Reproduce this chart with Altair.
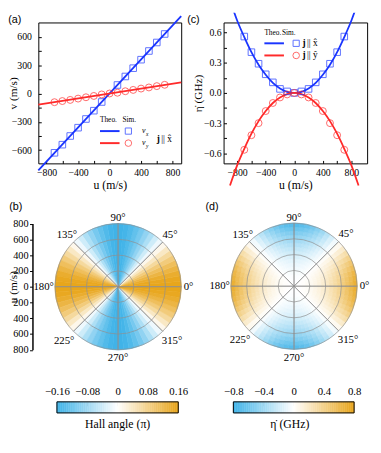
import altair as alt
import pandas as pd

# ---------------- layout helpers (page px -> chart px) ----------------
W, H = 373, 437
OX, OY = 8, 8


def X(v):
    return v - OX


def Y(v):
    return v - OY


SERIF = "Liberation Serif, 'Times New Roman', Times, 'DejaVu Serif', serif"
SANS = "Liberation Sans, Arial, 'DejaVu Sans', sans-serif"
BLUE = "#1a35ff"
RED = "#ff2a2a"
HEAT_BLUE = "#3fb3e8"
HEAT_ORANGE = "#e8a51a"
GRID = "#8f8f8f"

# ---------------- data ----------------
# (a) velocity vs u
u_sq_a = [-700, -600, -500, -400, -300, -200, -100, 100, 200, 300, 400, 500, 600, 700]
vx_sim = [-628, -542, -450, -362, -270, -182, -90, 90, 180, 268, 358, 450, 540, 630]
u_sim = [-700, -600, -500, -400, -300, -200, -100, 0, 100, 200, 300, 400, 500, 600, 700]
vy_sim = [-92, -80, -68, -54, -40, -26, -10, 0, 8, 24, 38, 52, 64, 78, 92]
u_line = [-905, 910]
vx_line = [-815, 819]
vy_line = [-118, 118]

# (c) eta-dot vs u
eta_sx = [0.56, 0.405, 0.29, 0.185, 0.105, 0.04, 0.015, 0.0, 0.015, 0.04, 0.105, 0.185, 0.29, 0.405, 0.56]
eta_sy = [-0.565, -0.42, -0.30, -0.18, -0.10, -0.045, -0.015, 0.0, -0.015, -0.045, -0.10, -0.18, -0.30, -0.42, -0.565]
u_th = [-900, -800, -700, -600, -500, -400, -300, -200, -100, 0, 100, 200, 300, 400, 500, 600, 700, 800, 900]
eta_tx = [0.92, 0.72, 0.555, 0.405, 0.28, 0.18, 0.10, 0.045, 0.011, 0.0, 0.011, 0.045, 0.10, 0.18, 0.28, 0.405, 0.555, 0.72, 0.92]
eta_ty = [-0.92, -0.72, -0.555, -0.405, -0.28, -0.18, -0.10, -0.045, -0.011, 0.0, -0.011, -0.045, -0.10, -0.18, -0.28, -0.405, -0.555, -0.72, -0.92]

# (b) Hall angle (units of pi) per 5-degree sector, first quadrant
hall_q = [0.159, 0.155, 0.145, 0.131, 0.113, 0.092, 0.068, 0.041, 0.014,
          -0.014, -0.041, -0.068, -0.092, -0.113, -0.131, -0.145, -0.155, -0.159]
# (d) eta-dot at the rim (GHz) per 5-degree sector, first quadrant
eta_rim_q = [0.747, 0.724, 0.680, 0.614, 0.530, 0.430, 0.317, 0.194, 0.065,
             -0.065, -0.194, -0.317, -0.430, -0.530, -0.614, -0.680, -0.724, -0.747]
# (d) radial fraction of rim value per 50 m/s ring
radial_frac = [0.001, 0.009, 0.024, 0.048, 0.079, 0.118, 0.165, 0.220,
               0.282, 0.353, 0.431, 0.517, 0.610, 0.712, 0.821, 0.938]

angle_ticks = [0, 45, 90, 135, 180, 225, 270, 315]
angle_labels = ["0°", "45°", "90°", "135°", "180°", "225°", "270°", "315°"]
angle_label_r = [893, 930, 868, 918, 943, 967, 905, 967]
ring_r = [200, 400, 600, 800]

ONE = pd.DataFrame({"k": [0]})


def full_circle(q):
    half = q + q[::-1]
    return half + half


hall_full = full_circle(hall_q)
eta_full = full_circle(eta_rim_q)

heat_b = pd.DataFrame({
    "a0": [5 * k for k in range(72)],
    "a1": [5 * k + 5 for k in range(72)],
    "ro": [800] * 72,
    "ri": [0] * 72,
    "v": hall_full,
})
rows = []
for k, ev in enumerate(eta_full):
    for j, f in enumerate(radial_frac):
        rows.append({"a0": 5 * k, "a1": 5 * k + 5, "ri": 50 * j, "ro": 50 * j + 50, "v": ev * f})
heat_d = pd.DataFrame(rows)

# ---------------- common pieces ----------------
def txt(s, x, y, size=10, font=SERIF, align="center", baseline="middle",
        style="normal", weight="normal", color="black"):
    return alt.Chart(ONE).mark_text(
        text=s, font=font, fontSize=size, align=align, baseline=baseline,
        fontStyle=style, fontWeight=weight, color=color
    ).encode(x=alt.value(X(x)), y=alt.value(Y(y)))


def hrule(x0, x1, y, color):
    return alt.Chart(ONE).mark_rule(color=color, strokeWidth=2).encode(
        x=alt.value(X(x0)), x2=alt.value(X(x1)), y=alt.value(Y(y)))


def marker(x, y, shape, color, size):
    return alt.Chart(ONE).mark_point(shape=shape, filled=False, color=color,
                                     size=size, strokeWidth=1).encode(
        x=alt.value(X(x)), y=alt.value(Y(y)))


def frame_layers(xs, ys, x0, x1, y0, y1, xt, yt):
    base = alt.Chart(ONE).mark_point(opacity=0)
    f1 = base.encode(
        x=alt.XDatum(0, type="quantitative", scale=xs,
                     axis=alt.Axis(orient="top", offset=-y1, values=xt, labels=False,
                                   ticks=True, tickSize=3, domain=True, grid=False, title=None)),
        y=alt.YDatum(0, type="quantitative", scale=ys,
                     axis=alt.Axis(orient="right", offset=x0 - W, values=yt, labels=False,
                                   ticks=True, tickSize=3, domain=True, grid=False, title=None)))
    f2 = base.encode(
        x=alt.XDatum(0, type="quantitative", scale=xs,
                     axis=alt.Axis(orient="bottom", offset=y0 - H, labels=False,
                                   ticks=False, domain=True, grid=False, title=None)),
        y=alt.YDatum(0, type="quantitative", scale=ys,
                     axis=alt.Axis(orient="left", offset=-x1, labels=False,
                                   ticks=False, domain=True, grid=False, title=None)))
    return [f1, f2]


# ---------------- panel (a) ----------------
xA = alt.Scale(domain=[-905, 910], range=[X(39), X(185)], nice=False, zero=False)
yA = alt.Scale(domain=[-740, 752], range=[Y(162), Y(18)], nice=False, zero=False)
xaxA = alt.Axis(orient="bottom", offset=Y(162) - H, values=[-800, -400, 0, 400, 800], format="d",
                ticks=False, tickSize=0, domain=False, labelPadding=4,
                title="u (m/s)", titlePadding=3)
yaxA = alt.Axis(orient="left", offset=-X(39), values=[-600, -300, 0, 300, 600], format="d",
                ticks=False, tickSize=0, domain=False, labelPadding=7,
                title="v (m/s)", titleX=X(14) - X(39), titleY=Y(90), titleBaseline="middle",
                titleFontSize=11.5)

df_lineA = pd.DataFrame({"u": u_line, "vx": vx_line, "vy": vy_line})
df_sqA = pd.DataFrame({"u": u_sq_a, "vx": vx_sim})
df_ciA = pd.DataFrame({"u": u_sim, "vy": vy_sim})

dataA = alt.layer(
    alt.Chart(df_lineA).mark_line(color=BLUE, strokeWidth=1.8, clip=True).encode(
        x=alt.X("u:Q", scale=xA, axis=xaxA), y=alt.Y("vx:Q", scale=yA, axis=yaxA)),
    alt.Chart(df_lineA).mark_line(color=RED, strokeWidth=1.8, clip=True).encode(
        x=alt.X("u:Q", scale=xA, axis=xaxA), y=alt.Y("vy:Q", scale=yA, axis=yaxA)),
    alt.Chart(df_sqA).mark_point(shape="square", filled=False, color=BLUE, size=45, strokeWidth=1).encode(
        x=alt.X("u:Q", scale=xA, axis=xaxA), y=alt.Y("vx:Q", scale=yA, axis=yaxA)),
    alt.Chart(df_ciA).mark_point(shape="circle", filled=False, color=RED, size=50, strokeWidth=1).encode(
        x=alt.X("u:Q", scale=xA, axis=xaxA), y=alt.Y("vy:Q", scale=yA, axis=yaxA)),
)
panelA = alt.layer(
    dataA,
    *frame_layers(xA, yA, X(39), X(185), Y(18), Y(162),
                  list(range(-800, 801, 200)), list(range(-600, 601, 150)))
).resolve_scale(x="independent", y="independent")

# ---------------- panel (c) ----------------
xC = alt.Scale(domain=[-990, 1020], range=[X(228.3), X(375)], nice=False, zero=False)
yC = alt.Scale(domain=[-0.70, 0.70], range=[Y(162), Y(18)], nice=False, zero=False)
xaxC = alt.Axis(orient="bottom", offset=Y(162) - H, values=[-800, -400, 0, 400, 800], format="d",
                ticks=False, tickSize=0, domain=False, labelPadding=4,
                title="u (m/s)", titlePadding=3)
yaxC = alt.Axis(orient="left", offset=-X(228.3), values=[-0.6, -0.3, 0, 0.3, 0.6], format=".1f",
                ticks=False, tickSize=0, domain=False, labelPadding=2.5,
                title="η̇ (GHz)", titleX=X(202.5) - X(228.3), titleY=Y(90), titleBaseline="middle",
                titleFontSize=11.5)

df_thC = pd.DataFrame({"u": u_th, "ex": eta_tx, "ey": eta_ty})
df_simC = pd.DataFrame({"u": u_sim, "ex": eta_sx, "ey": eta_sy})

dataC = alt.layer(
    alt.Chart(df_thC).mark_line(color=BLUE, strokeWidth=1.8, clip=True, interpolate="monotone").encode(
        x=alt.X("u:Q", scale=xC, axis=xaxC), y=alt.Y("ex:Q", scale=yC, axis=yaxC)),
    alt.Chart(df_thC).mark_line(color=RED, strokeWidth=1.8, clip=True, interpolate="monotone").encode(
        x=alt.X("u:Q", scale=xC, axis=xaxC), y=alt.Y("ey:Q", scale=yC, axis=yaxC)),
    alt.Chart(df_simC).mark_point(shape="square", filled=False, color=BLUE, size=45, strokeWidth=1).encode(
        x=alt.X("u:Q", scale=xC, axis=xaxC), y=alt.Y("ex:Q", scale=yC, axis=yaxC)),
    alt.Chart(df_simC).mark_point(shape="circle", filled=False, color=RED, size=50, strokeWidth=1).encode(
        x=alt.X("u:Q", scale=xC, axis=xaxC), y=alt.Y("ey:Q", scale=yC, axis=yaxC)),
)
panelC = alt.layer(
    dataC,
    *frame_layers(xC, yC, X(228.3), X(375), Y(18), Y(162),
                  list(range(-800, 801, 200)), [-0.6, -0.45, -0.3, -0.15, 0, 0.15, 0.3, 0.45, 0.6])
).resolve_scale(x="independent", y="independent")

# ---------------- polar panels ----------------
THETA = alt.Scale(type="linear", domain=[0, 360], range=[1.5707963267948966, -4.71238898038469],
                  nice=False, zero=False)
RAD = alt.Scale(type="linear", domain=[0, 1000], range=[0, 80.625], nice=False, zero=False)

df_rings = pd.DataFrame({"r": ring_r, "a0": [0] * 4, "a1": [360] * 4})
df_spokes = pd.DataFrame({"a": angle_ticks, "r": [800] * 8})
df_alab = pd.DataFrame({"a": angle_ticks, "lab": angle_labels, "rl": angle_label_r})


def polar(cx, cy, heat_df, cscale, extra=None):
    cxv, cyv = alt.value(X(cx)), alt.value(Y(cy))
    heat = alt.Chart(heat_df).mark_arc(strokeWidth=0.6).encode(
        theta=alt.Theta("a0:Q", scale=THETA, stack=False), theta2="a1:Q",
        radius=alt.Radius("ro:Q", scale=RAD), radius2="ri:Q",
        color=alt.Color("v:Q", scale=cscale, legend=None),
        stroke=alt.Stroke("v:Q", scale=cscale, legend=None),
        x=cxv, y=cyv)
    rings = alt.Chart(df_rings).mark_arc(filled=False, color=GRID, strokeWidth=0.7).encode(
        theta=alt.Theta("a0:Q", scale=THETA, stack=False), theta2="a1:Q",
        radius=alt.Radius("r:Q", scale=RAD), x=cxv, y=cyv)
    spokes = alt.Chart(df_spokes).mark_arc(filled=False, color=GRID, strokeWidth=0.7).encode(
        theta=alt.Theta("a:Q", scale=THETA, stack=False), theta2="a:Q",
        radius=alt.Radius("r:Q", scale=RAD), x=cxv, y=cyv)
    labs = alt.Chart(df_alab).mark_text(font=SERIF, fontSize=11, color="black").encode(
        theta=alt.Theta("a:Q", scale=THETA, stack=False),
        radius=alt.Radius("rl:Q", scale=RAD), text="lab:N", x=cxv, y=cyv)
    parts = [heat, rings, spokes, labs]
    if extra is not None:
        parts.append(extra)
    return alt.layer(*parts)


cB = alt.Scale(domain=[-0.16, 0, 0.16], range=[HEAT_BLUE, "#ffffff", HEAT_ORANGE], interpolate="rgb")
cD = alt.Scale(domain=[-0.8, 0, 0.8], range=[HEAT_BLUE, "#ffffff", HEAT_ORANGE], interpolate="rgb")

axisB = alt.Chart(ONE).mark_point(opacity=0).encode(
    x=alt.value(X(120)),
    y=alt.YDatum(0, type="quantitative",
                 scale=alt.Scale(domain=[-800, 800], range=[Y(352.5), Y(223.5)], nice=False, zero=False),
                 axis=alt.Axis(orient="left", offset=-X(33), values=list(range(-800, 801, 200)),
                               labelExpr="format(abs(datum.value), 'd')", tickSize=3,
                               domainWidth=1.5, labelPadding=1.5, labelFontSize=10.5,
                               title="u (m/s)", titleX=X(14) - X(33), titleY=Y(288),
                               titleBaseline="middle", titleFontSize=11.5)))

panelB = polar(120.5, 288, heat_b, cB, axisB)
panelD = polar(300.3, 287.5, heat_d, cD)

# ---------------- colour bars ----------------
def colorbar(x0, x1, lo, hi, step, cscale, lab_vals, tick_vals, fmt):
    xs = alt.Scale(domain=[lo, hi], range=[X(x0), X(x1)], nice=False, zero=False)
    ys = alt.Scale(domain=[0, 1], range=[Y(417), Y(405.7)], nice=False, zero=False)
    n = int(round((hi - lo) / step))
    cells = pd.DataFrame({"lo": [lo + i * step for i in range(n)],
                          "hi": [lo + (i + 1) * step for i in range(n)]})
    cells["mid"] = (cells["lo"] + cells["hi"]) / 2
    lab_axis = alt.Axis(orient="top", offset=-Y(405.7), values=lab_vals, ticks=False, tickSize=0,
                        domain=False, labelPadding=5, labelFontSize=11,
                        labelExpr=f"datum.value == 0 ? '0' : format(datum.value, '{fmt}')", title=None)
    bar = alt.Chart(cells).mark_rect(strokeWidth=0.5).encode(
        x=alt.X("lo:Q", scale=xs, axis=lab_axis), x2="hi:Q",
        y=alt.YDatum(0, type="quantitative", scale=ys, axis=None), y2=alt.Y2Datum(1),
        color=alt.Color("mid:Q", scale=cscale, legend=None),
        stroke=alt.Stroke("mid:Q", scale=cscale, legend=None))
    border = alt.Chart(ONE).mark_rect(filled=False, color="black", strokeWidth=1).encode(
        x=alt.XDatum(lo, type="quantitative", scale=xs, axis=lab_axis), x2=alt.X2Datum(hi),
        y=alt.YDatum(0, type="quantitative", scale=ys, axis=None), y2=alt.Y2Datum(1))
    ticks = alt.Chart(ONE).mark_point(opacity=0).encode(
        x=alt.XDatum(0, type="quantitative", scale=xs,
                     axis=alt.Axis(orient="bottom", offset=Y(405.7) - H, values=tick_vals,
                                   labels=False, tickSize=4, domain=False, tickColor="#333333",
                                   title=None)),
        y=alt.value(Y(411)))
    return alt.layer(alt.layer(bar, border), ticks).resolve_scale(
        x="independent", y="independent", color="independent", stroke="independent")


cbB = colorbar(58, 182, -0.16, 0.16, 0.005, cB, [-0.16, -0.08, 0, 0.08, 0.16], [-0.08, 0, 0.08], ".2f")
cbD = colorbar(238.3, 361.7, -0.8, 0.8, 0.025, cD, [-0.8, -0.4, 0, 0.4, 0.8], [-0.4, 0, 0.4], ".1f")

# ---------------- annotations ----------------
notes = [
    txt("(a)", 15, 16, size=11, font=SANS),
    txt("(c)", 197.5, 16, size=11, font=SANS),
    txt("(b)", 16, 207, size=11, font=SANS),
    txt("(d)", 216.5, 207, size=11, font=SANS),
    # legend (a)
    txt("Theo.", 102, 118, size=7.5, align="left"),
    txt("Sim.", 125, 118, size=7.5, align="left"),
    hrule(102, 122, 129, BLUE),
    marker(131, 129, "square", BLUE, 40),
    txt("v", 145, 129, size=8, align="left", style="italic"),
    txt("x", 149, 132, size=5.5, align="left", style="italic"),
    hrule(102, 122, 141.3, RED),
    marker(131, 141.3, "circle", RED, 45),
    txt("v", 145, 141.3, size=8, align="left", style="italic"),
    txt("y", 149, 144.3, size=5.5, align="left", style="italic"),
    txt("j", 160, 137, size=9.5, align="left", weight="bold"),
    txt("|| x̂", 164.5, 137, size=9.5, align="left"),
    # legend (c)
    txt("Theo.", 270, 29, size=7.5, align="left"),
    txt("Sim.", 288, 29, size=7.5, align="left"),
    hrule(270, 290, 39.3, BLUE),
    marker(302.5, 39.3, "square", BLUE, 40),
    txt("j", 309, 39.3, size=9.5, align="left", weight="bold"),
    txt("|| x̂", 313.5, 39.3, size=9.5, align="left"),
    hrule(270, 290, 51.7, RED),
    marker(302.5, 51.7, "circle", RED, 45),
    txt("j", 309, 51.7, size=9.5, align="left", weight="bold"),
    txt("|| ŷ", 313.5, 51.7, size=9.5, align="left"),
    # colour bar titles
    txt("Hall angle (π)", 120, 428, size=12),
    txt("η̇ (GHz)", 296, 428, size=12),
]

chart = alt.layer(
    panelA, panelC, panelB, panelD, cbB, cbD, *notes
).resolve_scale(
    x="independent", y="independent", color="independent", stroke="independent",
    theta="independent", radius="independent"
).properties(
    width=W, height=H, autosize=alt.AutoSizeParams(type="none"), padding=0
).configure_view(stroke=None).configure_axis(
    labelFont=SERIF, titleFont=SERIF, labelFontSize=10, titleFontSize=12,
    titleFontWeight="normal", labelColor="black", titleColor="black",
    domainColor="black", tickColor="black", domainWidth=1, tickWidth=1,
    labelFlush=False, labelOverlap=False, grid=False
)

chart.save("out.html", embed_options={"renderer": "svg", "actions": False})
